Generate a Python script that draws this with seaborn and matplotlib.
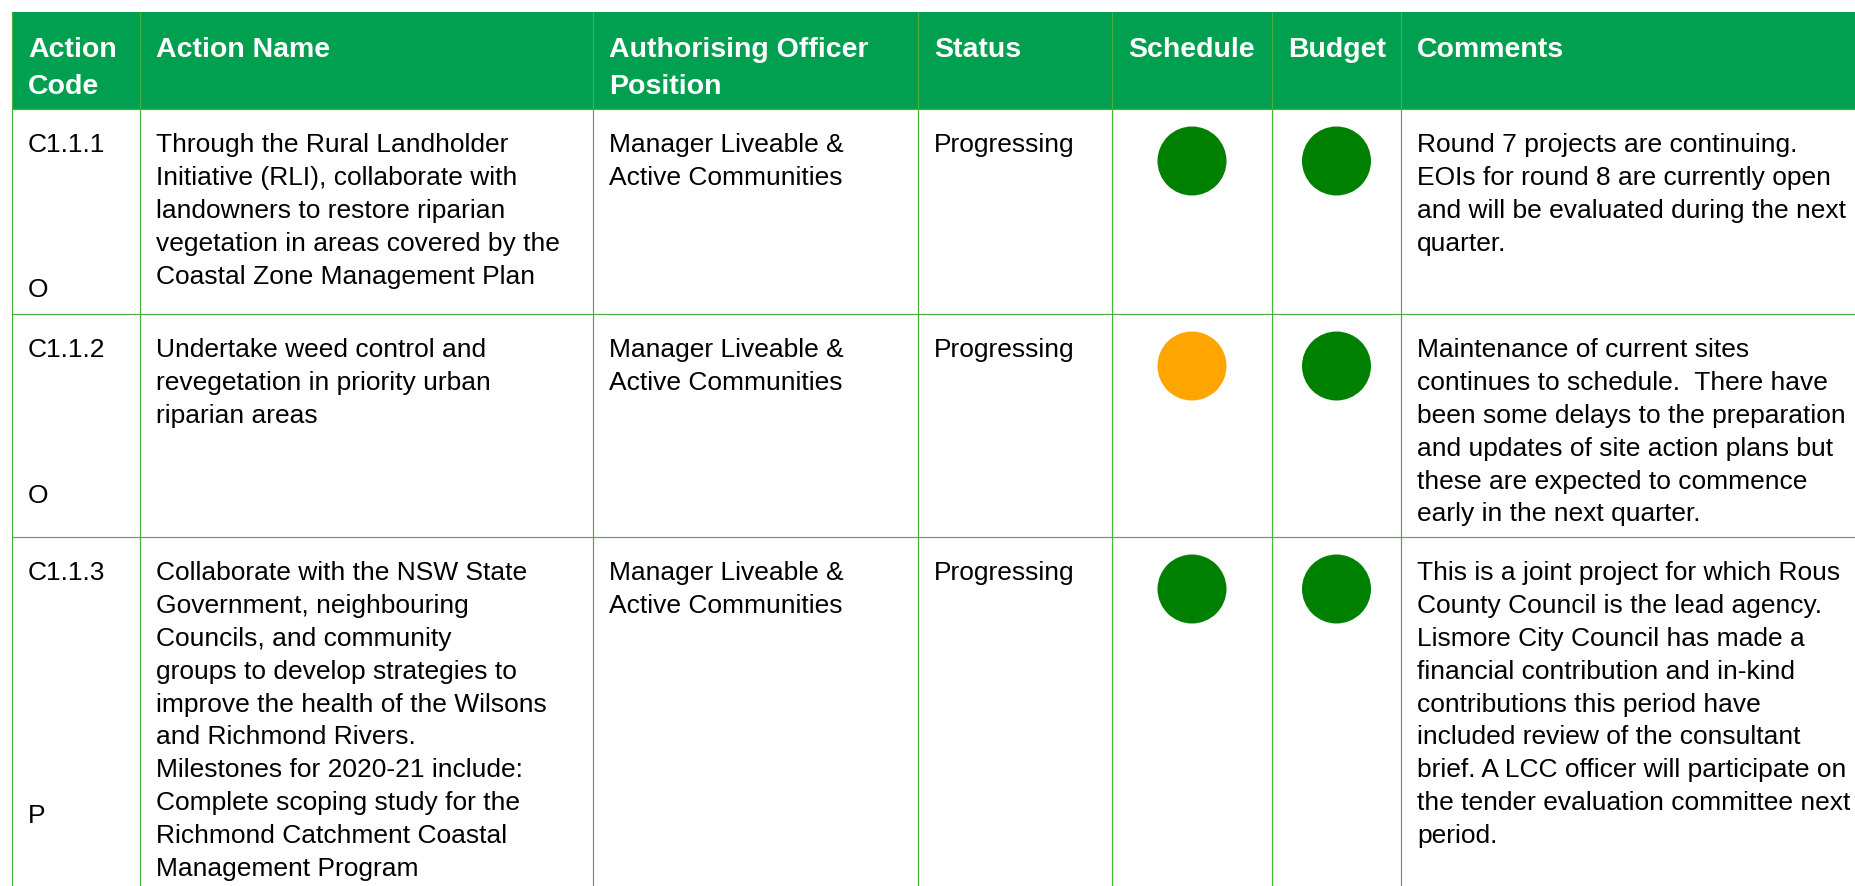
# Action progress table - coastal / riparian actions

import numpy as np
import pandas as pd
import matplotlib
matplotlib.use("Agg")
import matplotlib.pyplot as plt
import seaborn as sns
from matplotlib.patches import Rectangle

# ================= DATA =================

headers = [
    ["Action", "Code"],
    ["Action Name"],
    ["Authorising Officer", "Position"],
    ["Status"],
    ["Schedule"],
    ["Budget"],
    ["Comments"],
]

action_codes = ["C1.1.1", "C1.1.2", "C1.1.3"]
action_types = ["O", "O", "P"]

action_names = [
    ["Through the Rural Landholder",
     "Initiative (RLI), collaborate with",
     "landowners to restore riparian",
     "vegetation in areas covered by the",
     "Coastal Zone Management Plan"],
    ["Undertake weed control and",
     "revegetation in priority urban",
     "riparian areas"],
    ["Collaborate with the NSW State",
     "Government, neighbouring",
     "Councils, and community",
     "groups to develop strategies to",
     "improve the health of the Wilsons",
     "and Richmond Rivers.",
     "Milestones for 2020-21 include:",
     "Complete scoping study for the",
     "Richmond Catchment Coastal",
     "Management Program"],
]

officers = [
    ["Manager Liveable &", "Active Communities"],
    ["Manager Liveable &", "Active Communities"],
    ["Manager Liveable &", "Active Communities"],
]

statuses = ["Progressing", "Progressing", "Progressing"]

schedule_rating = ["on track", "minor delay", "on track"]
budget_rating = ["on track", "on track", "on track"]

comments = [
    ["Round 7 projects are continuing.",
     "EOIs for round 8 are currently open",
     "and will be evaluated during the next",
     "quarter."],
    ["Maintenance of current sites",
     "continues to schedule.  There have",
     "been some delays to the preparation",
     "and updates of site action plans but",
     "these are expected to commence",
     "early in the next quarter."],
    ["This is a joint project for which Rous",
     "County Council is the lead agency.",
     "Lismore City Council has made a",
     "financial contribution and in-kind",
     "contributions this period have",
     "included review of the consultant",
     "brief. A LCC officer will participate on",
     "the tender evaluation committee next",
     "period."],
]

rating_colors = {"on track": "#008000", "minor delay": "#FFA500"}

# ================= LAYOUT (pixels) =================

W, H = 1856, 886
col_edges = [12, 140, 593, 918, 1112, 1272, 1401, 1900]
header_top, header_bottom = 12, 109
row_edges = [109, 314, 537, 900]
pad_x = 16
line_h = 32.9
head_line_h = 36.7
type_offset = [188, 189, 286]   # baseline of the O / P marker inside each cell

header_green = "#00a050"
grid_green = "#4caf3c"

# ================= FIGURE =================

sns.set_style("white")
plt.rcParams["font.family"] = ["Liberation Sans", "DejaVu Sans"]

fig = plt.figure(figsize=(W / 100, H / 100), dpi=100)
ax = fig.add_axes([0, 0, 1, 1])
ax.set_xlim(0, W)
ax.set_ylim(H, 0)
ax.axis("off")

# header band
ax.add_patch(Rectangle((col_edges[0], header_top), W - col_edges[0] + 10,
                       header_bottom - header_top,
                       facecolor=header_green, edgecolor="none", zorder=1))

# grid lines
ax.vlines(col_edges[:-1], header_top, H + 5, colors=grid_green, linewidth=0.85, zorder=2)
ax.hlines(row_edges[:-1], col_edges[0], W + 5, colors=grid_green, linewidth=0.85, zorder=2)

# header text
for c, lines in enumerate(headers):
    for i, txt in enumerate(lines):
        ax.text(col_edges[c] + pad_x, 57 + i * head_line_h, txt,
                color="white", fontsize=20.5, fontweight="bold",
                va="baseline", ha="left", zorder=3)

# body text
def cell_lines(col, row, lines):
    top = row_edges[row]
    for i, txt in enumerate(lines):
        ax.text(col_edges[col] + pad_x, top + 43 + i * line_h, txt,
                color="black", fontsize=19, va="baseline", ha="left", zorder=3)

for r in range(len(action_codes)):
    cell_lines(0, r, [action_codes[r]])
    ax.text(col_edges[0] + pad_x, row_edges[r] + type_offset[r], action_types[r],
            color="black", fontsize=19, va="baseline", ha="left", zorder=3)
    cell_lines(1, r, action_names[r])
    cell_lines(2, r, officers[r])
    cell_lines(3, r, [statuses[r]])
    cell_lines(6, r, comments[r])

# ================= STATUS DOTS =================

dots = pd.DataFrame({
    "column": ["Schedule"] * len(action_codes) + ["Budget"] * len(action_codes),
    "row": list(range(len(action_codes))) * 2,
    "rating": schedule_rating + budget_rating,
})
col_center = {"Schedule": (col_edges[4] + col_edges[5]) / 2,
              "Budget": (col_edges[5] + col_edges[6]) / 2}
dots["x"] = dots["column"].map(col_center)
dots["y"] = [row_edges[r] + 52 for r in dots["row"]]

sns.scatterplot(data=dots, x="x", y="y", hue="rating", palette=rating_colors,
                s=(69 * 0.72) ** 2, linewidth=0, legend=False, ax=ax, zorder=4)
ax.set_xlim(0, W)
ax.set_ylim(H, 0)
ax.axis("off")

fig.savefig("out.png", dpi=100)
